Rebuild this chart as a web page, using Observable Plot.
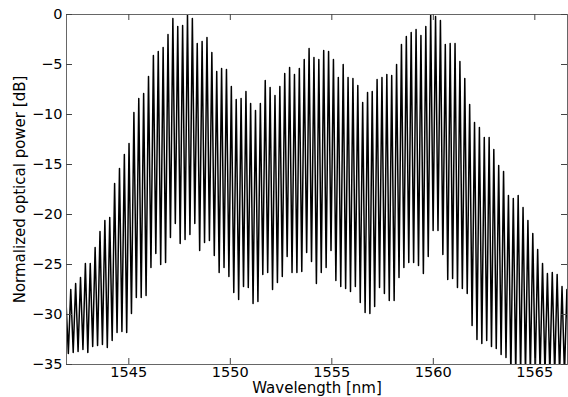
<!DOCTYPE html>
<html>
<head>
<meta charset="utf-8">
<script src="https://cdn.jsdelivr.net/npm/d3@7"></script>
<script src="https://cdn.jsdelivr.net/npm/@observablehq/plot@0.6"></script>
<style>
  html, body { margin: 0; padding: 0; background: #fff; }
  #chart { width: 568px; height: 397px; overflow: hidden; }
</style>
</head>
<body>
<div id="chart"></div>
<script>
// Comb line wavelengths [nm]
const wavelengths = [
  1541.90, 1542.14, 1542.38, 1542.62, 1542.86, 1543.10, 1543.34, 1543.58, 1543.82, 1544.06,
  1544.30, 1544.54, 1544.78, 1545.01, 1545.25, 1545.49, 1545.73, 1545.97, 1546.21, 1546.45,
  1546.69, 1546.93, 1547.17, 1547.41, 1547.65, 1547.89, 1548.13, 1548.37, 1548.61, 1548.85,
  1549.09, 1549.33, 1549.57, 1549.81, 1550.05, 1550.29, 1550.53, 1550.77, 1551.00, 1551.24,
  1551.48, 1551.72, 1551.96, 1552.20, 1552.44, 1552.68, 1552.92, 1553.16, 1553.40, 1553.64,
  1553.88, 1554.12, 1554.36, 1554.60, 1554.84, 1555.08, 1555.32, 1555.56, 1555.80, 1556.04,
  1556.28, 1556.52, 1556.76, 1556.99, 1557.23, 1557.47, 1557.71, 1557.95, 1558.19, 1558.43,
  1558.67, 1558.91, 1559.15, 1559.39, 1559.63, 1559.87, 1560.11, 1560.35, 1560.59, 1560.83,
  1561.07, 1561.31, 1561.55, 1561.79, 1562.03, 1562.27, 1562.51, 1562.75, 1562.98, 1563.22,
  1563.46, 1563.70, 1563.94, 1564.18, 1564.42, 1564.66, 1564.90, 1565.14, 1565.38, 1565.62,
  1565.86, 1566.10, 1566.34, 1566.58
];
// Peak power of each comb line [dB]
const peakPower = [
  -28.4, -27.5, -26.9, -26.3, -24.9, -24.9, -23.3, -21.7, -20.6, -20.3,
  -16.9, -15.4, -14.0, -12.9, -9.8, -8.4, -7.9, -6.2, -4.1, -3.7,
  -3.3, -2.0, -0.4, -1.2, -1.1, 0.0, -0.4, -2.9, -2.7, -2.3,
  -3.8, -5.7, -5.4, -5.5, -7.2, -8.5, -8.4, -7.7, -8.9, -9.6,
  -8.9, -6.6, -7.3, -8.1, -7.2, -5.9, -5.3, -6.0, -5.4, -4.5,
  -3.4, -4.3, -4.5, -3.6, -3.7, -4.5, -6.3, -5.0, -6.3, -6.4,
  -7.1, -8.8, -7.8, -7.7, -6.5, -6.3, -6.0, -6.1, -5.0, -3.0,
  -2.2, -1.8, -1.5, -2.1, -1.2, 0.0, -0.2, -0.6, -3.0, -2.9,
  -2.9, -4.7, -6.4, -9.0, -10.8, -11.3, -12.3, -12.3, -13.5, -15.1,
  -15.7, -18.1, -18.4, -18.1, -19.3, -20.6, -21.9, -23.5, -24.9, -25.9,
  -25.8, -26.0, -27.2, -27.5
];
// Floor level between each line and the next [dB]
const troughPower = [
  -33.9, -33.8, -33.7, -33.5, -33.8, -33.2, -33.1, -33.0, -33.3, -32.6,
  -31.8, -31.7, -31.8, -29.9, -28.3, -28.3, -28.1, -25.3, -23.9, -25.0,
  -24.8, -22.3, -20.9, -22.9, -22.5, -22.0, -20.9, -23.6, -22.8, -22.6,
  -24.1, -25.8, -25.3, -26.2, -27.8, -28.5, -27.2, -27.3, -28.9, -28.7,
  -26.0, -25.8, -27.5, -26.8, -26.2, -24.2, -25.8, -25.8, -25.7, -23.8,
  -24.7, -26.9, -25.8, -25.3, -23.6, -26.6, -27.2, -27.4, -27.7, -27.2,
  -28.8, -29.8, -29.9, -29.2, -27.3, -27.9, -28.6, -28.6, -26.3, -25.3,
  -24.8, -24.8, -25.1, -25.9, -24.2, -21.6, -21.6, -24.0, -26.5, -26.4,
  -27.3, -27.4, -27.9, -31.1, -32.5, -32.9, -32.6, -33.2, -33.4, -34.0,
  -34.3, -36.0, -36.0, -36.0, -36.0, -36.0, -36.0, -36.0, -36.0, -36.0,
  -36.0, -36.0, -36.0, -36.0
];
const leadTrough = -34.0;

const xTicks = [1545, 1550, 1555, 1560, 1565];
const yTicks = [0, -5, -10, -15, -20, -25, -30, -35];
const xLabel = "Wavelength [nm]";
const yLabel = "Normalized optical power [dB]";

// Build the spectrum trace: floor, line peak, floor, ...
const trace = [];
const n = wavelengths.length;
const halfStep0 = (wavelengths[1] - wavelengths[0]) / 2;
trace.push({w: wavelengths[0] - halfStep0, p: leadTrough});
for (let i = 0; i < n; i++) {
  trace.push({w: wavelengths[i], p: peakPower[i]});
  const next = i < n - 1 ? wavelengths[i + 1] : wavelengths[i] + (wavelengths[i] - wavelengths[i - 1]);
  trace.push({w: (wavelengths[i] + next) / 2, p: troughPower[i]});
}

const fmt = d3.format("d");
const tickColor = "#444";

const chart = Plot.plot({
  width: 568,
  height: 397,
  marginLeft: 66,
  marginRight: 1,
  marginTop: 14,
  marginBottom: 33,
  style: {fontFamily: "DejaVu Sans", fontSize: "14.5px", background: "#fff", color: "#000", overflow: "visible"},
  x: {domain: [1541.93, 1566.61]},
  y: {domain: [-35, 0]},
  marks: [
    Plot.line(trace, {x: "w", y: "p", stroke: "#000", strokeWidth: 1.5, clip: true}),
    Plot.frame({stroke: "#666", strokeWidth: 1}),
    Plot.tickX(xTicks, {x: d => d, insetTop: 344, stroke: tickColor}),
    Plot.tickX(xTicks, {x: d => d, insetBottom: 344, stroke: tickColor}),
    Plot.tickY(yTicks, {y: d => d, insetRight: 495, stroke: tickColor}),
    Plot.tickY(yTicks, {y: d => d, insetLeft: 495, stroke: tickColor}),
    Plot.axisX(xTicks, {tickSize: 0, tickPadding: 2, tickFormat: fmt, label: null, fontSize: 14.5}),
    Plot.axisY(yTicks, {tickSize: 0, tickPadding: 4, tickFormat: fmt, label: null, fontSize: 14.5}),
    Plot.text([xLabel], {text: d => d, frameAnchor: "bottom", lineAnchor: "middle", textAnchor: "middle", dy: 24, fontSize: 15, fill: "#000"}),
    Plot.text([yLabel], {text: d => d, frameAnchor: "left", lineAnchor: "middle", textAnchor: "middle", rotate: -90, dx: -46, fontSize: 15, fill: "#000"})
  ]
});
document.getElementById("chart").appendChild(chart);
</script>
</body>
</html>
